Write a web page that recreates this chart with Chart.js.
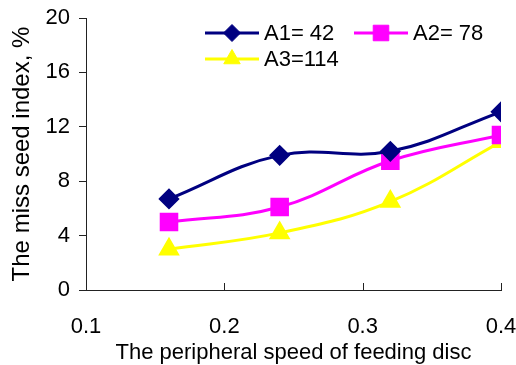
<!DOCTYPE html>
<html>
<head>
<meta charset="utf-8">
<script src="https://cdn.jsdelivr.net/npm/chart.js@4/dist/chart.umd.min.js"></script>
<style>
  body { margin: 0; background: #fff; }
  #wrap { width: 516px; height: 365px; }
</style>
</head>
<body>
<div id="wrap"><canvas id="chart" width="516" height="365"></canvas></div>
<script>
// Data
const speeds = [0.16, 0.24, 0.32, 0.40];
const seriesNames = ['A1= 42', 'A2= 78', 'A3=114'];
const a1 = [6.7, 9.9, 10.2, 13.1];
const a2 = [5.0, 6.1, 9.5, 11.4];
const a3 = [3.0, 4.2, 6.5, 10.9];
const xTicks = [0.1, 0.2, 0.3, 0.4];
const yTicks = [0, 4, 8, 12, 16, 20];

const FONT = '"Liberation Sans", Arial, sans-serif';

const toPoints = (vals) => vals.map((v, i) => ({ x: speeds[i], y: v }));

// Legend drawn inside the plot, like the original
const insideLegend = {
    id: 'insideLegend',
    afterDraw(chart) {
        const ctx = chart.ctx;
        const spots = [[205, 33], [354, 33], [205, 59]];
        chart.data.datasets.forEach((ds, i) => {
            const [x, y] = spots[i];
            ctx.save();
            ctx.strokeStyle = ds.borderColor;
            ctx.lineWidth = ds.borderWidth;
            ctx.beginPath();
            ctx.moveTo(x, y);
            ctx.lineTo(x + 54, y);
            ctx.stroke();
            ctx.fillStyle = ds.pointBackgroundColor;
            ctx.strokeStyle = ds.pointBorderColor;
            ctx.lineWidth = 1;
            Chart.helpers.drawPoint(ctx, {
                pointStyle: ds.pointStyle,
                radius: ds.pointRadius,
                borderWidth: 1
            }, x + 27, y);
            ctx.restore();
            ctx.save();
            ctx.fillStyle = '#000';
            ctx.font = '22px ' + FONT;
            ctx.textBaseline = 'middle';
            ctx.fillText(ds.label, x + 59, y + 1);
            ctx.restore();
        });
    }
};

// Small tick marks on the x axis pointing up into the plot
const innerXTicks = {
    id: 'innerXTicks',
    afterDraw(chart) {
        const ctx = chart.ctx;
        const xs = chart.scales.x;
        const bottom = chart.chartArea.bottom;
        ctx.save();
        ctx.strokeStyle = '#222';
        ctx.lineWidth = 1;
        xTicks.forEach(v => {
            const px = Math.round(xs.getPixelForValue(v)) + 0.5;
            ctx.beginPath();
            ctx.moveTo(px, bottom);
            ctx.lineTo(px, bottom - 7);
            ctx.stroke();
        });
        ctx.restore();
    }
};

const ctx = document.getElementById('chart').getContext('2d');
new Chart(ctx, {
    type: 'line',
    data: {
        datasets: [
            {
                label: seriesNames[0],
                data: toPoints(a1),
                borderColor: '#000080',
                backgroundColor: '#000080',
                pointBackgroundColor: '#000080',
                pointBorderColor: '#000080',
                pointStyle: 'rectRot',
                pointRadius: 8.5,
                borderWidth: 3
            },
            {
                label: seriesNames[1],
                data: toPoints(a2),
                borderColor: '#ff00ff',
                backgroundColor: '#ff00ff',
                pointBackgroundColor: '#ff00ff',
                pointBorderColor: '#ff00ff',
                pointStyle: 'rect',
                pointRadius: 11,
                borderWidth: 3
            },
            {
                label: seriesNames[2],
                data: toPoints(a3),
                borderColor: '#ffff00',
                backgroundColor: '#ffff00',
                pointBackgroundColor: '#ffff00',
                pointBorderColor: '#ffff00',
                pointStyle: 'triangle',
                pointRadius: 9.5,
                borderWidth: 3
            }
        ]
    },
    options: {
        responsive: false,
        animation: false,
        tension: 0.4,
        layout: { padding: { left: 0, right: 15, top: 18, bottom: 0 } },
        plugins: {
            legend: { display: false },
            tooltip: { enabled: false }
        },
        elements: { point: { borderWidth: 1 } },
        scales: {
            x: {
                type: 'linear',
                min: 0.1,
                max: 0.4,
                afterBuildTicks: (s) => { s.ticks = xTicks.map(v => ({ value: v })); },
                afterFit: (s) => { s.height = 75; s.paddingLeft = 0; s.paddingRight = 0; },
                ticks: {
                    color: '#000',
                    font: { family: FONT, size: 22 },
                    padding: 24,
                    maxRotation: 0,
                    callback: (v) => v.toFixed(1)
                },
                grid: { display: true, drawOnChartArea: false, drawTicks: false, color: '#222' },
                border: { color: '#222', width: 1 },
                title: {
                    display: true,
                    text: 'The peripheral speed of feeding disc',
                    color: '#000',
                    font: { family: FONT, size: 22 },
                    padding: { top: 0, bottom: -1 }
                }
            },
            y: {
                min: 0,
                max: 20,
                afterBuildTicks: (s) => { s.ticks = yTicks.map(v => ({ value: v })); },
                afterFit: (s) => { s.width = 86; s.paddingTop = 0; s.paddingBottom = 0; },
                ticks: {
                    color: '#000',
                    font: { family: FONT, size: 22 },
                    padding: 9
                },
                grid: { display: true, drawOnChartArea: false, drawTicks: true, tickLength: 7, color: '#222' },
                border: { color: '#222', width: 1 },
                title: {
                    display: true,
                    text: 'The miss seed index, %',
                    color: '#000',
                    font: { family: FONT, size: 24 },
                    padding: { top: 8, bottom: 0 }
                }
            }
        }
    },
    plugins: [innerXTicks, insideLegend]
});
</script>
</body>
</html>
